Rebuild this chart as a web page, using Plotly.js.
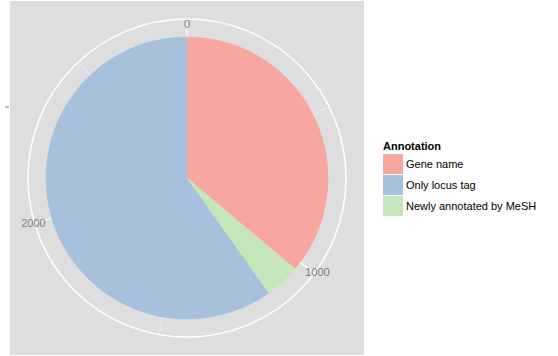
<!DOCTYPE html>
<html>
<head>
<meta charset="utf-8">
<script src="https://cdn.plot.ly/plotly-3.0.1.min.js"></script>
<style>html,body{margin:0;padding:0;background:#fff;overflow:hidden;}#chart{width:558px;height:356px;}</style>
</head>
<body>
<div id="chart"></div>
<script>
// Data (counts per annotation category), in stacking order around the circle
const categories = ["Gene name", "Newly annotated by MeSH", "Only locus tag"];
const counts = [1026, 115, 1700];
const colors = ["#F7A6A0", "#C4E6BA", "#A7C1DD"];
const legendOrder = ["Gene name", "Only locus tag", "Newly annotated by MeSH"];
const majorTicks = [0, 1000, 2000];
const majorLabels = ["0", "1000", "2000"];
const minorTicks = [500, 1500, 2500];

const W = 558, H = 356;
const total = counts.reduce((a, b) => a + b, 0);
const deg = v => v * 360 / total;

const starts = [];
let acc = 0;
counts.forEach(c => { starts.push(acc); acc += c; });

const pieTraces = legendOrder.map((name, k) => {
  const i = categories.indexOf(name);
  return {
    type: "barpolar",
    subplot: "polar2",
    name: name,
    legendgroup: "g" + k,
    r: [0.4],
    base: [0],
    theta: [deg(starts[i] + counts[i] / 2)],
    width: [deg(counts[i])],
    marker: { color: colors[i], line: { width: 0 } },
    hoverinfo: "skip"
  };
});
// empty helper traces so the minor-grid and label subplots are drawn
const helperTraces = ["polar", "polar3"].map(sp => ({
  type: "scatterpolar", subplot: sp, r: [], theta: [], mode: "markers",
  showlegend: false, hoverinfo: "skip"
}));

const px = x => x / W;
const py = y => 1 - y / H;
const dom = (cx, cy, rad) => ({ x: [px(cx - rad), px(cx + rad)], y: [py(cy + rad), py(cy - rad)] });
const CX = 187, CY = 178;

const baseAngular = {
  rotation: 90, direction: "clockwise", tickmode: "array", ticks: "",
  layer: "below traces"
};

const layout = {
  width: W, height: H,
  margin: { l: 0, r: 0, t: 0, b: 0, autoexpand: false },
  paper_bgcolor: "#ffffff",
  font: { family: "Liberation Sans, Arial, sans-serif", color: "#000" },
  showlegend: true,
  // minor gridlines (bottom layer)
  polar: {
    domain: dom(CX, CY, 159),
    bgcolor: "rgba(0,0,0,0)",
    radialaxis: { range: [0, 1], visible: false, showgrid: false },
    angularaxis: Object.assign({}, baseAngular, {
      tickvals: minorTicks.map(deg), ticktext: minorTicks.map(() => ""),
      showline: false, showticklabels: false,
      showgrid: true, gridcolor: "rgba(255,255,255,0.75)", gridwidth: 0.6
    })
  },
  // pie with major gridlines and outer circle
  polar2: {
    domain: dom(CX, CY, 159),
    bgcolor: "rgba(0,0,0,0)",
    bargap: 0,
    radialaxis: { range: [0, 0.45], visible: false, showgrid: false },
    angularaxis: Object.assign({}, baseAngular, {
      tickvals: majorTicks.map(deg), ticktext: majorLabels,
      showticklabels: false,
      showline: true, linecolor: "#ffffff", linewidth: 1.5,
      showgrid: true, gridcolor: "#ffffff", gridwidth: 1.1
    })
  },
  // tick labels, placed so they sit on the outer circle as in the reference
  polar3: {
    domain: dom(CX, CY, 147),
    bgcolor: "rgba(0,0,0,0)",
    radialaxis: { range: [0, 1], visible: false, showgrid: false },
    angularaxis: Object.assign({}, baseAngular, {
      tickvals: majorTicks.map(deg), ticktext: majorLabels,
      showline: false, showgrid: false, showticklabels: true,
      tickfont: { size: 11, color: "#7F7F7F" }
    })
  },
  shapes: [
    { type: "rect", xref: "paper", yref: "paper", layer: "below",
      x0: px(10), x1: px(364), y0: py(355), y1: py(1),
      fillcolor: "#DEDEDE", line: { width: 0 } },
    { type: "line", xref: "paper", yref: "paper",
      x0: px(5), x1: px(9), y0: py(107), y1: py(107),
      line: { color: "#7F7F7F", width: 1 } }
  ],
  legend: {
    x: px(376), y: py(134), xanchor: "left", yanchor: "top",
    bgcolor: "rgba(0,0,0,0)",
    title: { text: "<b>Annotation</b>", font: { size: 11, color: "#000" } },
    font: { size: 11, color: "#000" },
    traceorder: "normal",
    tracegroupgap: 3,
    itemwidth: 30
  }
};

Plotly.newPlot("chart", helperTraces.slice(0, 1).concat(pieTraces, helperTraces.slice(1)), layout,
  { displayModeBar: false, staticPlot: true }).then(gd => {
  // legend key styling to match the reference: 20px square keys, text just after
  const keyLeft = 383, keySize = 20, textLeft = 406;
  const rowCenters = [164, 185, 206];
  const items = gd.querySelectorAll(".legend .traces");
  items.forEach((item, k) => {
    const path = item.querySelector(".legendpoints path");
    const text = item.querySelector("text.legendtext");
    if (!path || !text) return;
    const r = path.getBoundingClientRect();
    const cx = r.left + r.width / 2, cy = r.top + r.height / 2;
    const s = keySize / r.width;
    const dx = keyLeft + keySize / 2 - cx;
    const dy = rowCenters[k] - cy;
    const old = path.getAttribute("transform") || "";
    path.setAttribute("transform", `translate(${dx},${dy}) ${old} scale(${s})`);
    const tr = text.getBoundingClientRect();
    const tdx = textLeft - tr.left;
    const tdy = rowCenters[k] - (tr.top + tr.height / 2);
    text.setAttribute("x", (parseFloat(text.getAttribute("x")) || 0) + tdx);
    text.setAttribute("y", (parseFloat(text.getAttribute("y")) || 0) + tdy);
  });
  const title = gd.querySelector(".legend .legendtitletext");
  if (title) {
    const tr = title.getBoundingClientRect();
    title.setAttribute("x", (parseFloat(title.getAttribute("x")) || 0) + (keyLeft - tr.left));
    title.setAttribute("y", (parseFloat(title.getAttribute("y")) || 0) + (146 - (tr.top + tr.height / 2)));
  }
});
</script>
</body>
</html>
